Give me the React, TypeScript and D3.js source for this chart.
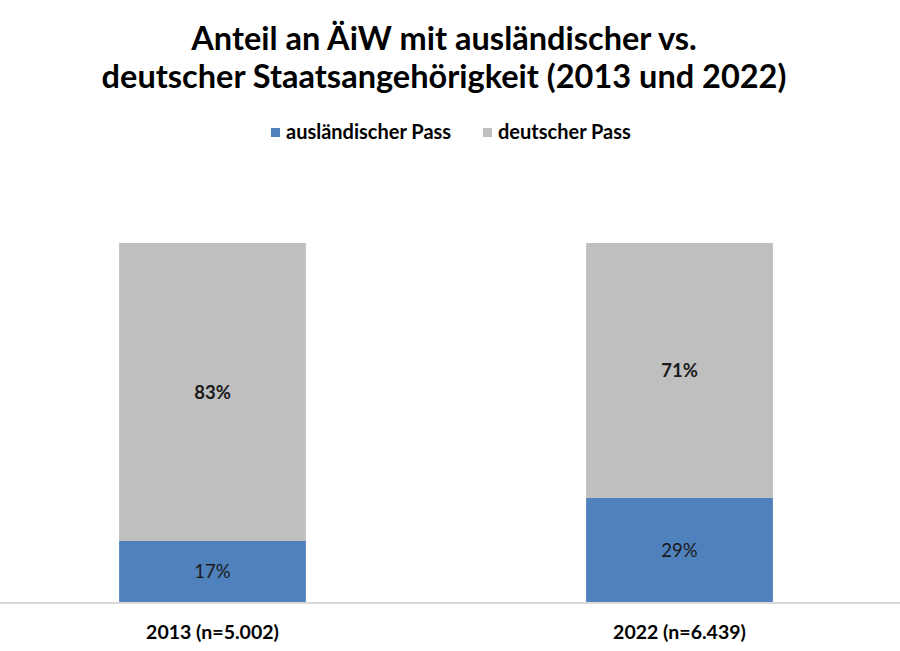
import { useEffect, useRef } from 'react';
import * as d3 from 'd3';

const categories = ['2013 (n=5.002)', '2022 (n=6.439)'];
const seriesKeys = ['ausland', 'deutsch'];
const seriesNames = ['ausländischer Pass', 'deutscher Pass'];
const auslandShare = [0.17, 0.29];
const deutschShare = [0.83, 0.71];
const colours = ['#4F81BD', '#BFBFBF'];
const titleLines = [
  'Anteil an ÄiW mit ausländischer vs.',
  'deutscher Staatsangehörigkeit (2013 und 2022)',
];

const WIDTH = 900;
const HEIGHT = 651;
const FONT = 'Lato, "Open Sans", sans-serif';

export default function App() {
  const svgRef = useRef<SVGSVGElement>(null);

  useEffect(() => {
    if (!svgRef.current) return;
    const svg = d3.select(svgRef.current);
    svg.selectAll('*').remove();

    const rows = categories.map((c, i) => ({
      category: c,
      ausland: auslandShare[i],
      deutsch: deutschShare[i],
    }));

    const x = d3.scaleBand<string>()
      .domain(categories)
      .range([-21, 913])
      .paddingInner(0.6)
      .paddingOuter(0.3);

    const y = d3.scaleLinear().domain([0, 1]).range([602, 243]);

    const stack = d3.stack<any>().keys(seriesKeys);
    const layers = stack(rows);

    // Title
    svg.append('g')
      .selectAll('text')
      .data(titleLines)
      .join('text')
      .attr('x', WIDTH / 2 - 6)
      .attr('y', (_, i) => 50 + i * 38)
      .attr('text-anchor', 'middle')
      .attr('font-family', FONT)
      .attr('font-size', '32.5px')
      .attr('font-weight', '700')
      .attr('fill', '#000')
      .text((d) => d);

    // Legend
    const legend = svg.append('g');
    const legendX = [271, 483];
    seriesNames.forEach((name, i) => {
      legend.append('rect')
        .attr('x', legendX[i])
        .attr('y', 128)
        .attr('width', 9)
        .attr('height', 9)
        .attr('fill', colours[i]);
      legend.append('text')
        .attr('x', legendX[i] + 15)
        .attr('y', 139)
        .attr('font-family', FONT)
        .attr('font-size', '20px')
        .attr('font-weight', '700')
        .attr('fill', '#000')
        .text(name);
    });

    // Bars
    const g = svg.append('g');
    layers.forEach((layer, li) => {
      g.append('g')
        .selectAll('rect')
        .data(layer)
        .join('rect')
        .attr('x', (d: any) => x(d.data.category)!)
        .attr('y', (d) => y(d[1]))
        .attr('width', x.bandwidth())
        .attr('height', (d) => y(d[0]) - y(d[1]))
        .attr('fill', colours[li]);

      g.append('g')
        .selectAll('text')
        .data(layer)
        .join('text')
        .attr('x', (d: any) => x(d.data.category)! + x.bandwidth() / 2)
        .attr('y', (d) => (y(d[0]) + y(d[1])) / 2 + 7)
        .attr('text-anchor', 'middle')
        .attr('font-family', FONT)
        .attr('font-size', '18.5px')
        .attr('font-weight', li === 1 ? '700' : '400')
        .attr('fill', '#1a1a1a')
        .text((d) => `${Math.round((d[1] - d[0]) * 100)}%`);
    });

    // Baseline
    svg.append('line')
      .attr('x1', 0)
      .attr('x2', WIDTH)
      .attr('y1', y(0) + 1)
      .attr('y2', y(0) + 1)
      .attr('stroke', '#D9D9D9')
      .attr('stroke-width', 2);

    // Category labels
    svg.append('g')
      .selectAll('text')
      .data(categories)
      .join('text')
      .attr('x', (d) => x(d)! + x.bandwidth() / 2)
      .attr('y', 639)
      .attr('text-anchor', 'middle')
      .attr('font-family', FONT)
      .attr('font-size', '19.5px')
      .attr('font-weight', '700')
      .attr('fill', '#000')
      .text((d) => d);
  }, []);

  return (
    <svg
      ref={svgRef}
      width={WIDTH}
      height={HEIGHT}
      style={{ position: 'absolute', top: 0, left: 0, background: '#fff' }}
    />
  );
}
